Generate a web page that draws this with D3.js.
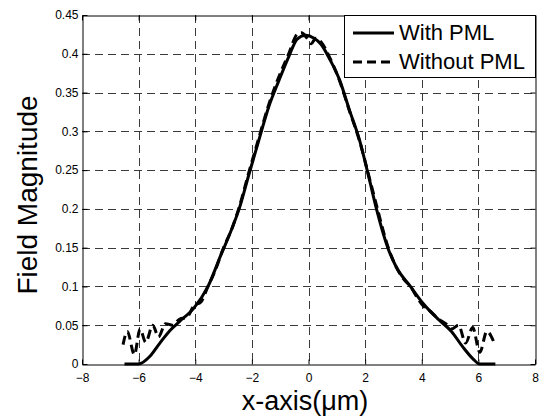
<!DOCTYPE html>
<html>
<head>
<meta charset="utf-8">
<script src="https://cdn.jsdelivr.net/npm/d3@7"></script>
<style>
  body { margin: 0; background: #fff; }
  svg { display: block; font-family: "Liberation Sans", Arial, sans-serif; }
</style>
</head>
<body>
<svg></svg>
<script>
// x positions (um) and field magnitude
var withX = [-6.5, -6.0, -5.6, -5.25, -4.9, -4.55, -4.05, -3.55, -3.1, -2.7, -2.45, -2.1, -1.75, -1.4, -1.05, -0.7, -0.4, -0.1, 0.2, 0.45, 0.75, 1.1, 1.45, 1.8, 2.15, 2.4, 2.8, 3.1, 3.6, 4.05, 4.6, 5.05, 5.45, 5.8, 6.05, 6.6];
var withY = [0, 0, 0.01, 0.027, 0.043, 0.055, 0.072, 0.1, 0.14, 0.175, 0.2, 0.245, 0.289, 0.332, 0.365, 0.396, 0.419, 0.424, 0.42, 0.412, 0.393, 0.366, 0.327, 0.289, 0.238, 0.2, 0.15, 0.125, 0.1, 0.078, 0.057, 0.042, 0.022, 0.007, 0, 0];

var withoutX = [-6.55, -6.4, -6.15, -5.95, -5.75, -5.5, -5.3, -5.05, -4.8, -4.55, -4.3, -4.05, -3.8, -3.55, -3.3, -3.0, -2.7, -2.45, -2.1, -1.75, -1.4, -1.05, -0.7, -0.4, -0.25, -0.05, 0.1, 0.25, 0.45, 0.75, 1.1, 1.45, 1.8, 2.15, 2.4, 2.8, 3.1, 3.35, 3.6, 3.85, 4.05, 4.3, 4.6, 4.85, 5.05, 5.3, 5.55, 5.8, 6.05, 6.3, 6.55];
var withoutY = [0.025, 0.042, 0.012, 0.045, 0.028, 0.05, 0.035, 0.052, 0.05, 0.058, 0.06, 0.075, 0.08, 0.1, 0.12, 0.15, 0.175, 0.202, 0.248, 0.292, 0.335, 0.37, 0.4, 0.425, 0.427, 0.42, 0.413, 0.42, 0.415, 0.395, 0.365, 0.326, 0.288, 0.24, 0.205, 0.152, 0.125, 0.11, 0.1, 0.085, 0.075, 0.068, 0.058, 0.052, 0.045, 0.05, 0.027, 0.047, 0.015, 0.042, 0.028];

var xTicks = [-8, -6, -4, -2, 0, 2, 4, 6, 8];
var yTicks = [0, 0.05, 0.1, 0.15, 0.2, 0.25, 0.3, 0.35, 0.4, 0.45];
var seriesNames = ["With PML", "Without PML"];

var width = 540, height = 418;
var plotL = 82, plotR = 535, plotT = 15, plotB = 364;

var xScale = d3.scaleLinear().domain([-8, 8]).range([plotL, plotR]);
var yScale = d3.scaleLinear().domain([0, 0.45]).range([plotB, plotT]);

var svg = d3.select("svg").attr("width", width).attr("height", height);

// grid
var grid = svg.append("g")
  .attr("stroke", "#3a3a3a")
  .attr("stroke-width", 1)
  .attr("stroke-dasharray", "8,5");
grid.selectAll("line.v")
  .data(xTicks.slice(1, -1))
  .enter().append("line")
  .attr("x1", d => Math.round(xScale(d)) + 0.5)
  .attr("x2", d => Math.round(xScale(d)) + 0.5)
  .attr("y1", plotT).attr("y2", plotB);
grid.selectAll("line.h")
  .data(yTicks.slice(1, -1))
  .enter().append("line")
  .attr("y1", d => Math.round(yScale(d)) + 0.5)
  .attr("y2", d => Math.round(yScale(d)) + 0.5)
  .attr("x1", plotL).attr("x2", plotR);

// axes (matlab style: ticks inward on all sides)
var xAxisB = d3.axisBottom(xScale).tickValues(xTicks).tickSizeInner(-5).tickSizeOuter(0).tickPadding(9).tickFormat(d3.format("d"));
var xAxisT = d3.axisTop(xScale).tickValues(xTicks).tickSizeInner(-5).tickSizeOuter(0).tickFormat("");
var yAxisL = d3.axisLeft(yScale).tickValues(yTicks).tickSizeInner(-5).tickSizeOuter(0).tickPadding(4).tickFormat(d => d === 0 ? "0" : String(d));
var yAxisR = d3.axisRight(yScale).tickValues(yTicks).tickSizeInner(-5).tickSizeOuter(0).tickFormat("");

svg.append("g").attr("transform", "translate(0," + (plotB + 0.5) + ")").call(xAxisB);
svg.append("g").attr("transform", "translate(0," + (plotT + 0.5) + ")").call(xAxisT);
svg.append("g").attr("transform", "translate(" + (plotL + 0.5) + ",0)").call(yAxisL);
svg.append("g").attr("transform", "translate(" + (plotR + 0.5) + ",0)").call(yAxisR);

svg.selectAll(".domain").attr("stroke", "#000");
svg.selectAll(".tick line").attr("stroke", "#000");
svg.selectAll(".tick text")
  .attr("fill", "#000")
  .style("font-size", "12px")
  .style("font-family", "'Liberation Sans', Arial, sans-serif");

// curves
var line = d3.line()
  .x(d => xScale(d[0]))
  .y(d => yScale(d[1]))
  .curve(d3.curveMonotoneX);

var withData = withX.map((x, i) => [x, withY[i]]);
var withoutData = withoutX.map((x, i) => [x, withoutY[i]]);

svg.append("path")
  .datum(withoutData)
  .attr("d", line)
  .attr("fill", "none")
  .attr("stroke", "#000")
  .attr("stroke-width", 3)
  .attr("stroke-dasharray", "9,5");

svg.append("path")
  .datum(withData)
  .attr("d", line)
  .attr("fill", "none")
  .attr("stroke", "#000")
  .attr("stroke-width", 3);

// legend
var legend = svg.append("g");
legend.append("rect")
  .attr("x", 344.5).attr("y", plotT + 0.5)
  .attr("width", plotR - 344).attr("height", 62)
  .attr("fill", "#fff")
  .attr("stroke", "#000");

legend.selectAll("line.key")
  .data(seriesNames)
  .enter().append("line")
  .attr("x1", 353).attr("x2", 394)
  .attr("y1", (d, i) => 33 + i * 29)
  .attr("y2", (d, i) => 33 + i * 29)
  .attr("stroke", "#000")
  .attr("stroke-width", 3)
  .attr("stroke-dasharray", (d, i) => i ? "9,5" : null);

legend.selectAll("text")
  .data(seriesNames)
  .enter().append("text")
  .attr("x", 399)
  .attr("y", (d, i) => 40 + i * 29)
  .style("font-size", "22px")
  .text(d => d);

// axis labels
svg.append("text")
  .attr("x", 305)
  .attr("y", 410)
  .attr("text-anchor", "middle")
  .style("font-size", "27px")
  .text("x-axis(\u03bcm)");

svg.append("text")
  .attr("transform", "rotate(-90)")
  .attr("x", -195)
  .attr("y", 37)
  .attr("text-anchor", "middle")
  .style("font-size", "28px")
  .text("Field Magnitude");
</script>
</body>
</html>
